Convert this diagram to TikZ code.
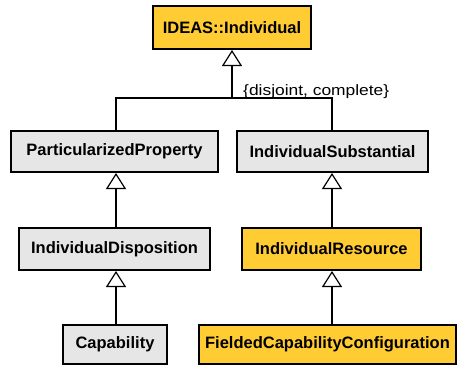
\documentclass[tikz,border=0pt]{standalone}
\usepackage{fontspec}
\setmainfont{Liberation Sans}
\usetikzlibrary{arrows.meta}
\definecolor{classgray}{HTML}{E6E6E6}
\definecolor{classyellow}{HTML}{FFCC33}
\tikzset{
  classbox/.style={draw=black, line width=2pt, rectangle, inner sep=0pt,
    font=\fontsize{16.5}{18}\selectfont\bfseries, text=black},
  plain/.style={classbox, fill=classgray},
  highlight/.style={classbox, fill=classyellow},
  gen/.style={line width=1.2pt, -{Triangle[open, length=16pt, width=20pt, line width=1.2pt]}},
  link/.style={line width=1.2pt}
}
\begin{document}
\begin{tikzpicture}[x=1pt, y=-1pt]
\useasboundingbox (0,0) rectangle (458,367);

% classes
\node[highlight, minimum width=158pt, minimum height=43pt] (ind) at (232,27.5) {IDEAS::Individual};
\node[plain, minimum width=207pt, minimum height=41pt] (pp) at (114.5,151.5) {ParticularizedProperty};
\node[plain, minimum width=191pt, minimum height=41pt] (is) at (332.5,151.5) {IndividualSubstantial};
\node[plain, minimum width=191pt, minimum height=42pt] (id) at (114.5,249) {IndividualDisposition};
\node[highlight, minimum width=179pt, minimum height=42pt] (ir) at (331.5,249) {IndividualResource};
\node[plain, minimum width=104pt, minimum height=39pt] (cap) at (115,344.5) {Capability};
\node[highlight, minimum width=257pt, minimum height=39pt] (fcc) at (327.5,344.5) {FieldedCapabilityConfiguration};

% guide columns and the generalization set junction
\coordinate (lx) at (116,0);
\coordinate (rx) at (332,0);
\coordinate (join) at (232,98);

% generalization set {disjoint, complete}
\draw[link] (pp.north -| lx) |- (join);
\draw[link] (is.north -| rx) |- (join);
\draw[gen] (join) -- (ind.south);
\node[anchor=base west, inner sep=0pt, font=\fontsize{15}{17}\selectfont] (gs) at (243,95)
  {\scalebox{1.16}[1]{\{disjoint, complete\}}};

% single generalizations
\draw[gen] (id.north -| lx) -- (pp.south -| lx);
\draw[gen] (cap.north -| lx) -- (id.south -| lx);
\draw[gen] (ir.north -| rx) -- (is.south -| rx);
\draw[gen] (fcc.north -| rx) -- (ir.south -| rx);
\end{tikzpicture}
\end{document}
